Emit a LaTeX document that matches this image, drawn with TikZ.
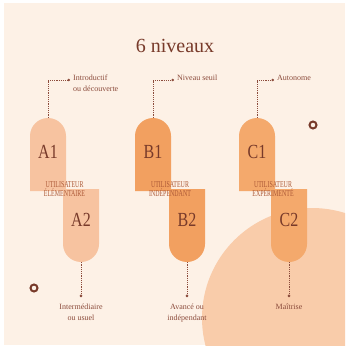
\documentclass[tikz,border=0pt]{standalone}
\usepackage{fontspec}
\setmainfont{Liberation Serif}
\newfontfamily\levelfont[FakeStretch=0.8]{Liberation Serif}
\newfontfamily\userfont[FakeStretch=0.66]{Liberation Serif}
\usetikzlibrary{arrows.meta,positioning}
\definecolor{cream}{RGB}{253,241,230}
\definecolor{peach}{RGB}{249,204,170}
\definecolor{pilla}{RGB}{247,195,160}
\definecolor{pillb}{RGB}{242,160,96}
\definecolor{pillc}{RGB}{244,169,108}
\definecolor{darkbrown}{RGB}{120,58,42}
\definecolor{notebrown}{RGB}{140,76,60}
\definecolor{capsbrown}{RGB}{172,88,54}

\begin{document}
\begin{tikzpicture}[x=1pt,y=-1pt,
  pilltop/.style={minimum width=36pt,minimum height=73pt,inner sep=0pt,
    path picture={\fill[#1] (path picture bounding box.south west)
      -- ([yshift=-18pt]path picture bounding box.north west)
      arc[start angle=180,end angle=0,radius=18pt]
      -- (path picture bounding box.south east) -- cycle;}},
  pillbottom/.style={minimum width=36pt,minimum height=73pt,inner sep=0pt,
    path picture={\fill[#1] (path picture bounding box.north west)
      -- ([yshift=18pt]path picture bounding box.south west)
      arc[start angle=180,end angle=360,radius=18pt]
      -- (path picture bounding box.north east) -- cycle;}},
  lvl/.style={font=\levelfont\fontsize{20}{20}\selectfont,text=darkbrown,inner sep=0pt},
  user/.style={align=center,font=\userfont\fontsize{9}{8.5}\selectfont,text=capsbrown,inner sep=0pt},
  note/.style={font=\fontsize{8}{11}\selectfont,text=notebrown,inner sep=0pt},
  lead/.style={-{Circle[length=2.6pt]},draw=notebrown,line width=0.6pt,
    dash pattern=on 1.2pt off 1pt}]
\useasboundingbox (0,0) rectangle (347,347);
\fill[white] (0,0) rectangle (347,347);
\fill[cream] (4,3) rectangle (345,345);
\begin{scope}
  \clip (4,3) rectangle (345,345);
  \fill[peach] (312,318) circle[radius=110pt];
\end{scope}
\draw[darkbrown,line width=2pt] (313,125) circle[radius=3.5pt];
\draw[darkbrown,line width=2pt] (34,288) circle[radius=3.5pt];

\node[font=\fontsize{20}{20}\selectfont,text=darkbrown] (title) at (175,46) {6 niveaux};

% pills
\node[pilltop=pilla] (a1) at (48,154.5) {};
\node[pillbottom=pilla] (a2) at (81,225.5) {};
\node[pilltop=pillb] (b1) at (153,154.5) {};
\node[pillbottom=pillb] (b2) at (187,225.5) {};
\node[pilltop=pillc] (c1) at (257,154.5) {};
\node[pillbottom=pillc] (c2) at (289,225.5) {};

\node[lvl] (a1t) at ([yshift=3pt]a1.center) {A1};
\node[lvl] (a2t) at ([yshift=6pt]a2.center) {A2};
\node[lvl] (b1t) at ([yshift=3pt]b1.center) {B1};
\node[lvl] (b2t) at ([yshift=6pt]b2.center) {B2};
\node[lvl] (c1t) at ([yshift=3pt]c1.center) {C1};
\node[lvl] (c2t) at ([yshift=6pt]c2.center) {C2};

\node[user] (auser) at (64.5,189) {UTILISATEUR\\ÉLÉMENTAIRE};
\node[user] (buser) at (170,189) {UTILISATEUR\\INDÉPENDANT};
\node[user] (cuser) at (273,189) {UTILISATEUR\\EXPÉRIMENTÉ};

% notes
\node[note,align=left,anchor=north west] (intro) at (73,75) {Introductif\\ou découverte};
\node[note,anchor=north west] (seuil) at (177,75) {Niveau seuil};
\node[note,anchor=north west] (auto) at (277,75) {Autonome};
\node[note,align=center,below=42pt of a2] (inter) {Intermédiaire\\ou usuel};
\node[note,align=center,below=42pt of b2] (avance) {Avancé ou\\indépendant};
\node[note,align=center,below=42pt of c2] (maitr) {Maîtrise};

\draw[lead] (a1.north) |- ([xshift=-3pt,yshift=-5pt]intro.north west);
\draw[lead] (b1.north) |- ([xshift=-3pt,yshift=-5pt]seuil.north west);
\draw[lead] (c1.north) |- ([xshift=-3pt,yshift=-5pt]auto.north west);
\draw[lead] (a2.south) -- ([yshift=7pt]inter.north);
\draw[lead] (b2.south) -- ([yshift=7pt]avance.north);
\draw[lead] (c2.south) -- ([yshift=7pt]maitr.north);
\end{tikzpicture}
\end{document}
